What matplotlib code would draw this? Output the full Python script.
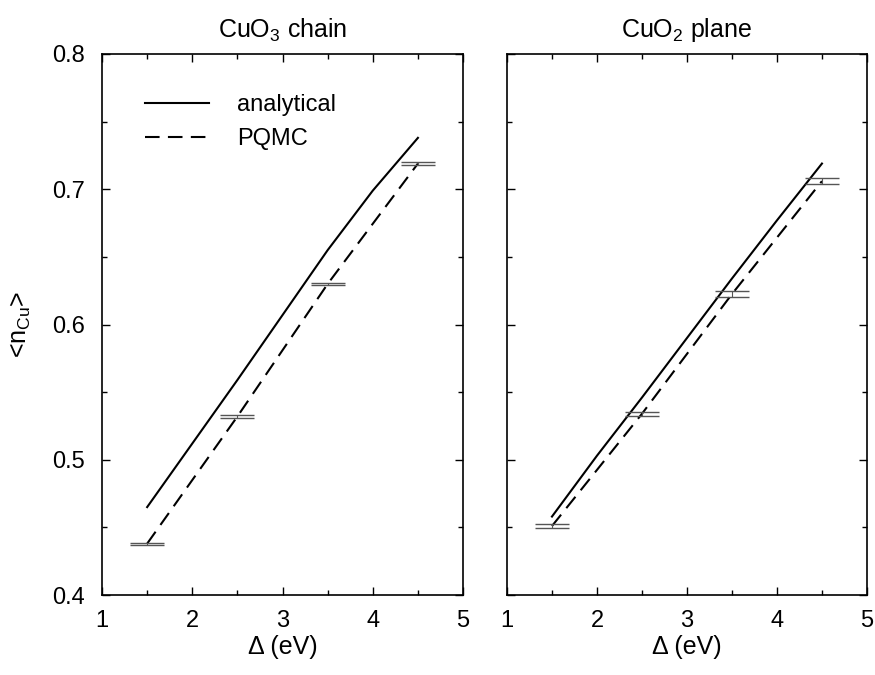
import matplotlib
matplotlib.use("agg")
import matplotlib.pyplot as plt
from matplotlib.ticker import MultipleLocator

plt.rcParams["font.family"] = ["Liberation Sans", "DejaVu Sans"]
plt.rcParams["mathtext.fontset"] = "custom"
plt.rcParams["mathtext.rm"] = "Liberation Sans"

# analytical curves
delta_an = [1.5, 2.0, 2.5, 3.0, 3.5, 4.0, 4.5]
chain_an = [0.465, 0.512, 0.559, 0.607, 0.655, 0.699, 0.738]
plane_an = [0.458, 0.503, 0.546, 0.590, 0.634, 0.677, 0.719]

# PQMC points
delta_qmc = [1.5, 2.5, 3.5, 4.5]
chain_qmc = [0.438, 0.532, 0.630, 0.719]
chain_err = [0.0008, 0.0008, 0.0008, 0.0008]
plane_qmc = [0.451, 0.534, 0.6225, 0.706]
plane_err = [0.0015, 0.0015, 0.002, 0.002]

titles = ["CuO$_3$ chain", "CuO$_2$ plane"]

fig = plt.figure(figsize=(8.75, 6.75), dpi=100)
ax1 = fig.add_axes([0.1166, 0.1185, 0.4126, 0.8015])
ax2 = fig.add_axes([0.5794, 0.1185, 0.4114, 0.8015])

panels = [(ax1, chain_an, chain_qmc, chain_err), (ax2, plane_an, plane_qmc, plane_err)]
for i, (ax, an, qmc, err) in enumerate(panels):
    ax.plot(delta_an, an, color="black", lw=1.5, label="analytical")
    ax.plot(delta_qmc, qmc, color="black", lw=1.5, dashes=(7, 4), label="PQMC")
    ax.errorbar(delta_qmc, qmc, yerr=err, fmt="none", ecolor="#555555",
                elinewidth=0.8, capsize=12.5, capthick=1.0)
    ax.set_xlim(1, 5)
    ax.set_ylim(0.4, 0.8)
    ax.xaxis.set_major_locator(MultipleLocator(1))
    ax.xaxis.set_minor_locator(MultipleLocator(0.5))
    ax.yaxis.set_major_locator(MultipleLocator(0.1))
    ax.yaxis.set_minor_locator(MultipleLocator(0.05))
    ax.tick_params(which="both", direction="in", top=True, right=True, labelsize=17)
    ax.tick_params(which="major", length=6, width=1)
    ax.tick_params(which="minor", length=3.5, width=1)
    ax.tick_params(axis="x", pad=11)
    ax.tick_params(axis="y", pad=12)
    for sp in ax.spines.values():
        sp.set_linewidth(1.2)
    ax.set_xlabel("\u0394 (eV)", fontsize=18, labelpad=2)
    ax.set_title(titles[i], fontsize=18, pad=12)

ax1.set_ylabel("<n$_\\mathregular{Cu}$>", fontsize=18)
ax1.yaxis.set_label_coords(-0.19, 0.5)
ax2.tick_params(axis="y", labelleft=False)

ax1.legend(loc="upper left", bbox_to_anchor=(0.06, 0.965), frameon=False,
           fontsize=17, handlelength=2.7, handletextpad=1.2, labelspacing=0.5)

fig.savefig("out.png", dpi=100)
